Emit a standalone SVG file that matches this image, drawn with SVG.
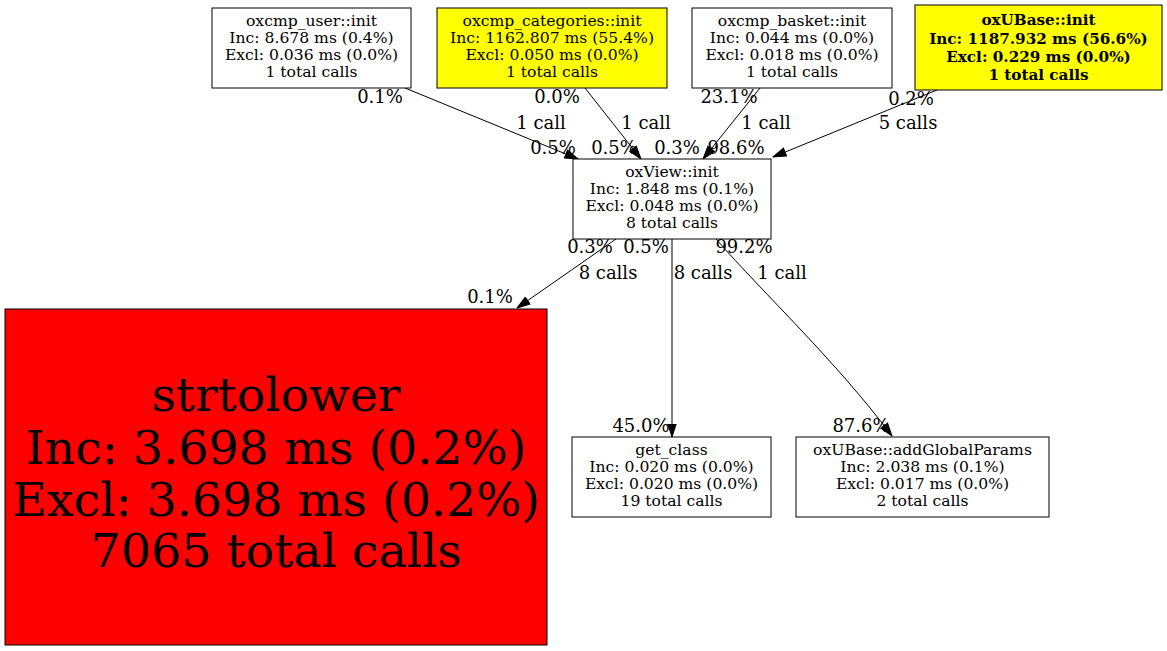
<svg xmlns="http://www.w3.org/2000/svg" width="1167" height="651" viewBox="0 0 1167 651">
<style>
text{font-family:"DejaVu Serif","Liberation Serif",serif;fill:#000;text-anchor:middle}
.n{font-size:15.6px}
.b{font-size:15.2px;font-weight:bold}
.big{font-size:47.5px}
.e{font-size:18px}
.box{stroke:#000;stroke-width:1}
.edge{fill:none;stroke:#000;stroke-width:1}
</style>
<defs>
<marker id="arr" viewBox="0 0 14 10" refX="13.5" refY="5" markerWidth="14" markerHeight="10" markerUnits="userSpaceOnUse" orient="auto">
<path d="M0.5,0.8 L13.5,5 L0.5,9.2 z" fill="#000" stroke="#000" stroke-width="1"/>
</marker>
</defs>
<rect width="1167" height="651" fill="#fff"/>
<g id="edges">
<path class="edge" d="M405,88 L578,159" marker-end="url(#arr)"/>
<path class="edge" d="M585,88 L641,159" marker-end="url(#arr)"/>
<path class="edge" d="M760,88 L703,159" marker-end="url(#arr)"/>
<path class="edge" d="M937,90 L773,157" marker-end="url(#arr)"/>
<path class="edge" d="M616,239 L517,308" marker-end="url(#arr)"/>
<path class="edge" d="M672,239 L672,437" marker-end="url(#arr)"/>
<path class="edge" d="M716,239 C765,295 835,360 892,436" marker-end="url(#arr)"/>
<text class="e" x="380" y="103">0.1%</text>
<text class="e" x="541" y="129">1 call</text>
<text class="e" x="553" y="154">0.5%</text>
<text class="e" x="557" y="103">0.0%</text>
<text class="e" x="646" y="129">1 call</text>
<text class="e" x="614" y="154">0.5%</text>
<text class="e" x="729" y="103">23.1%</text>
<text class="e" x="766" y="129">1 call</text>
<text class="e" x="677" y="154">0.3%</text>
<text class="e" x="911" y="105">0.2%</text>
<text class="e" x="908" y="129">5 calls</text>
<text class="e" x="736" y="154">98.6%</text>
<text class="e" x="590" y="253">0.3%</text>
<text class="e" x="608" y="279">8 calls</text>
<text class="e" x="490" y="303">0.1%</text>
<text class="e" x="646" y="253">0.5%</text>
<text class="e" x="703" y="279">8 calls</text>
<text class="e" x="641" y="432">45.0%</text>
<text class="e" x="744" y="253">99.2%</text>
<text class="e" x="782" y="279">1 call</text>
<text class="e" x="861" y="432">87.6%</text>
</g>
<g id="oxcmp_user_init">
<rect class="box" x="212" y="8" width="199" height="80" fill="#fff"/>
<text class="n" x="311.5" y="26">oxcmp_user::init</text>
<text class="n" x="311.5" y="43">Inc: 8.678 ms (0.4%)</text>
<text class="n" x="311.5" y="60">Excl: 0.036 ms (0.0%)</text>
<text class="n" x="311.5" y="77">1 total calls</text>
</g>
<g id="oxcmp_categories_init">
<rect class="box" x="437" y="8" width="230" height="80" fill="#ffff00"/>
<text class="n" x="552" y="26">oxcmp_categories::init</text>
<text class="n" x="552" y="43">Inc: 1162.807 ms (55.4%)</text>
<text class="n" x="552" y="60">Excl: 0.050 ms (0.0%)</text>
<text class="n" x="552" y="77">1 total calls</text>
</g>
<g id="oxcmp_basket_init">
<rect class="box" x="692" y="8" width="200" height="80" fill="#fff"/>
<text class="n" x="792" y="26">oxcmp_basket::init</text>
<text class="n" x="792" y="43">Inc: 0.044 ms (0.0%)</text>
<text class="n" x="792" y="60">Excl: 0.018 ms (0.0%)</text>
<text class="n" x="792" y="77">1 total calls</text>
</g>
<g id="oxUBase_init">
<rect class="box" x="915" y="5" width="247" height="85" fill="#ffff00"/>
<text class="b" x="1038.5" y="25">oxUBase::init</text>
<text class="b" x="1038.5" y="43.5">Inc: 1187.932 ms (56.6%)</text>
<text class="b" x="1038.5" y="62">Excl: 0.229 ms (0.0%)</text>
<text class="b" x="1038.5" y="80">1 total calls</text>
</g>
<g id="oxView_init">
<rect class="box" x="573" y="159" width="198" height="80" fill="#fff"/>
<text class="n" x="672" y="177">oxView::init</text>
<text class="n" x="672" y="194">Inc: 1.848 ms (0.1%)</text>
<text class="n" x="672" y="211">Excl: 0.048 ms (0.0%)</text>
<text class="n" x="672" y="228">8 total calls</text>
</g>
<g id="strtolower">
<rect class="box" x="5" y="309" width="542" height="336" fill="#ff0000"/>
<text class="big" x="276" y="411">strtolower</text>
<text class="big" x="276" y="464">Inc: 3.698 ms (0.2%)</text>
<text class="big" x="276" y="516">Excl: 3.698 ms (0.2%)</text>
<text class="big" x="276" y="567">7065 total calls</text>
</g>
<g id="get_class">
<rect class="box" x="572" y="437" width="199" height="80" fill="#fff"/>
<text class="n" x="671.5" y="455">get_class</text>
<text class="n" x="671.5" y="472">Inc: 0.020 ms (0.0%)</text>
<text class="n" x="671.5" y="489">Excl: 0.020 ms (0.0%)</text>
<text class="n" x="671.5" y="506">19 total calls</text>
</g>
<g id="oxUBase_addGlobalParams">
<rect class="box" x="796" y="437" width="253" height="80" fill="#fff"/>
<text class="n" x="922.5" y="455">oxUBase::addGlobalParams</text>
<text class="n" x="922.5" y="472">Inc: 2.038 ms (0.1%)</text>
<text class="n" x="922.5" y="489">Excl: 0.017 ms (0.0%)</text>
<text class="n" x="922.5" y="506">2 total calls</text>
</g>
</svg>
